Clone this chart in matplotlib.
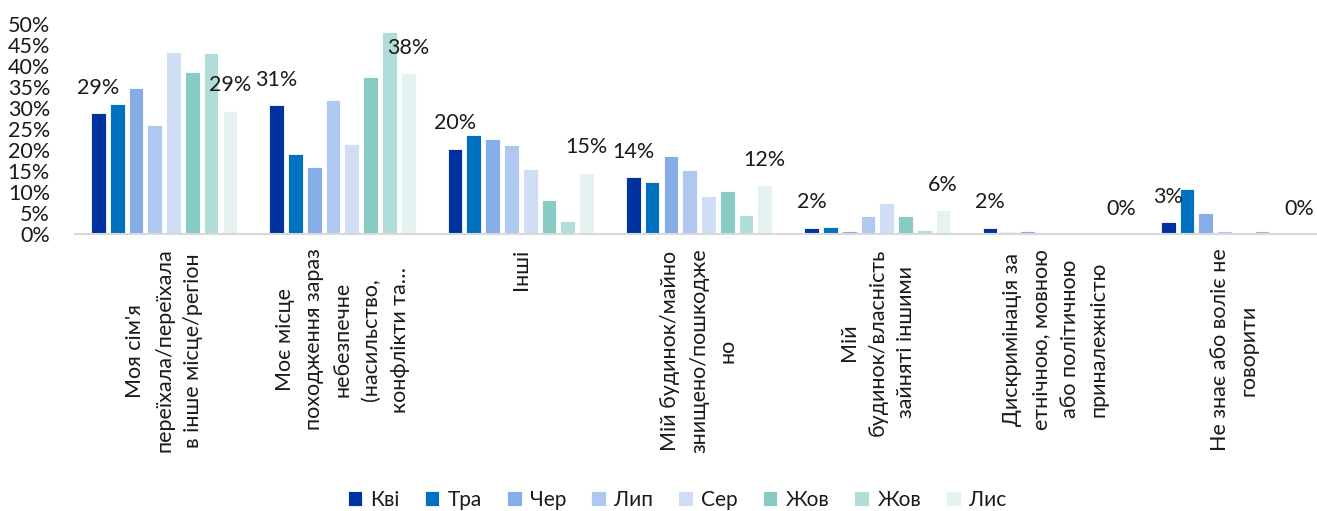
import matplotlib
matplotlib.use("Agg")
import matplotlib.pyplot as plt
import numpy as np

plt.rcParams['font.family'] = ['Lato', 'Open Sans', 'DejaVu Sans']

categories = [
    "Моя сім'я\nпереїхала/переїхала\nв інше місце/регіон",
    "Моє місце\nпоходження зараз\nнебезпечне\n(насильство,\nконфлікти та…",
    "Інші",
    "Мій будинок/майно\nзнищено/пошкодже\nно",
    "Мій\nбудинок/власність\nзайняті іншими",
    "Дискримінація за\nетнічною, мовною\nабо політичною\nприналежністю",
    "Не знає або воліє не\nговорити",
]
series_names = ["Кві", "Тра", "Чер", "Лип", "Сер", "Жов", "Жов", "Лис"]
kvi = [28.8, 30.6, 20.3, 13.6, 1.5, 1.5, 2.9]
tra = [30.9, 19.0, 23.6, 12.4, 1.6, 0.5, 10.7]
cher = [34.8, 15.9, 22.7, 18.6, 0.7, 0.7, 4.9]
lyp = [25.9, 31.9, 21.2, 15.3, 4.3, 0.0, 0.7]
ser = [43.3, 21.5, 15.4, 9.1, 7.3, 0.0, 0.0]
zhov1 = [38.5, 37.4, 8.0, 10.3, 4.2, 0.0, 0.6]
zhov2 = [43.0, 48.0, 3.0, 4.6, 1.0, 0.0, 0.0]
lys = [29.4, 38.3, 14.6, 11.7, 5.6, 0.0, 0.0]
series_values = [kvi, tra, cher, lyp, ser, zhov1, zhov2, lys]
labeled_series = [0, 7]
y_ticks = [0, 5, 10, 15, 20, 25, 30, 35, 40, 45, 50]

colors = ["#0033A0", "#0070C0", "#87ADE8", "#AEC8F0", "#CFDDF5",
          "#88CBC4", "#B0DDD8", "#E5F2F2"]

W, H = 1317, 511
fig = plt.figure(figsize=(W / 100, H / 100), dpi=100)
ax = fig.add_axes([75 / W, (H - 234) / H, (W - 75) / W, (234 - 24) / H])

x = np.arange(len(categories))
pitch = 0.1054
bw = 0.0825
for j, (name, vals) in enumerate(zip(series_names, series_values)):
    pos = x + (j - 3.5) * pitch
    ax.bar(pos, vals, width=bw, color=colors[j], edgecolor="white",
           linewidth=0.6, label=name, zorder=2)
    if j in labeled_series:
        for p, v in zip(pos, vals):
            ax.annotate(f"{v:.0f}%", (p, v), xytext=(0, 11), textcoords="offset points",
                        ha="center", va="bottom", fontsize=15.5, color="#1a1a1a")

ax.set_xlim(-0.5, -0.5 + (W - 75) / 178.3)
ax.set_ylim(0, 50)
ax.set_yticks(y_ticks)
ax.set_yticklabels([f"{t}%" for t in y_ticks], fontsize=15.5, color="#1a1a1a")
ax.tick_params(axis="y", length=0, pad=18)
ax.set_xticks([])
for s in ["left", "right", "top"]:
    ax.spines[s].set_visible(False)
ax.spines["bottom"].set_color("#d9d9d9")
ax.spines["bottom"].set_linewidth(1.5)

for xi, lab in zip(x, categories):
    ax.text(xi, -0.07, lab, transform=ax.get_xaxis_transform(), rotation=90,
            ha="center", va="top", multialignment="center", fontsize=15.5,
            linespacing=1.55, color="#1a1a1a")

leg = fig.legend(loc="center", bbox_to_anchor=(677 / W, (H - 500) / H), ncol=8,
                 frameon=False, fontsize=15, handlelength=0.7, handleheight=0.7,
                 handletextpad=0.4, columnspacing=1.2)
for t in leg.get_texts():
    t.set_color("#1a1a1a")

fig.savefig("out.png", dpi=100)
